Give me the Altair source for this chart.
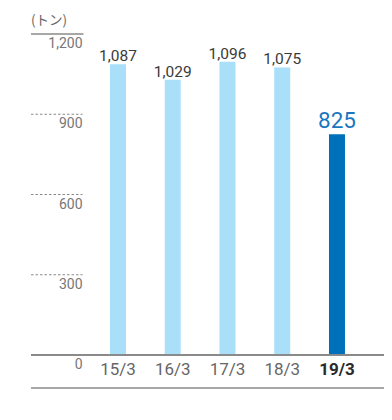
import altair as alt
import pandas as pd

# ---- data ----
categories = ["15/3", "16/3", "17/3", "18/3", "19/3"]
values = [1087, 1029, 1096, 1075, 825]
value_labels = ["1,087", "1,029", "1,096", "1,075", "825"]
highlight = [False, False, False, False, True]
y_ticks = [0, 300, 600, 900, 1200]
y_tick_labels = ["0", "300", "600", "900", "1,200"]
unit_label = "(トン)"

bars_df = pd.DataFrame({"cat": categories, "value": values,
                        "label": value_labels, "hl": highlight})
ticks_df = pd.DataFrame({"tick": y_ticks, "tick_label": y_tick_labels})
unit_df = pd.DataFrame({"unit": [unit_label]})

FONT = "Roboto"
LIGHT = "#aadffa"
DARK = "#0070bb"
LINE = "#8a8a8a"

W, H = 353, 321
COL = 51.5  # right edge of the y-label column

yscale = alt.Scale(domain=[0, 1200], nice=False)
xscale = alt.Scale(domain=categories, range=[51.6, 341.35],
                   paddingInner=0.7078, paddingOuter=0.5)
xaxis = alt.Axis(title=None, domain=False, ticks=False, grid=False, labelAngle=0,
                 labelPadding=6, labelFont=FONT, labelFontSize=17,
                 labelColor=alt.condition("datum.value == '19/3'", alt.value("#2a2a2a"), alt.value("#666666")),
                 labelFontWeight=alt.condition("datum.value == '19/3'", alt.value("bold"), alt.value("normal")))


def Y(field):
    return alt.Y(field, scale=yscale, axis=None)


def X():
    return alt.X("cat:N", scale=xscale, sort=categories, axis=xaxis)


base = alt.Chart(bars_df)

bars = base.mark_bar().encode(
    x=X(),
    y=Y("value:Q"),
    color=alt.condition("datum.hl", alt.value(DARK), alt.value(LIGHT)),
)

labels_normal = base.transform_filter("!datum.hl").mark_text(
    baseline="alphabetic", dy=-3, font=FONT, fontSize=15.5, color="#3a3a3a"
).encode(x=X(), y=Y("value:Q"), text="label:N")

labels_hl = base.transform_filter("datum.hl").mark_text(
    baseline="alphabetic", dy=-6, font=FONT, fontSize=22.5, color="#1a76c0"
).encode(x=X(), y=Y("value:Q"), text="label:N")

tick_base = alt.Chart(ticks_df)

tick_labels = tick_base.mark_text(
    align="right", baseline="top", dy=3, font=FONT, fontSize=14, color="#777777"
).encode(x=alt.value(COL), y=Y("tick:Q"), text="tick_label:N")

dotted = tick_base.transform_filter("datum.tick > 0 && datum.tick < 1200").mark_rule(
    strokeDash=[2.5, 2], color=LINE, strokeWidth=1
).encode(x=alt.value(0), x2=alt.value(COL), y=Y("tick:Q"))

top_rule = tick_base.transform_filter("datum.tick == 1200").mark_rule(
    color=LINE, strokeWidth=1.4
).encode(x=alt.value(0), x2=alt.value(COL + 1), y=Y("tick:Q"))

base_rule = tick_base.transform_filter("datum.tick == 0").mark_rule(
    color=LINE, strokeWidth=2
).encode(x=alt.value(0), x2=alt.value(W), y=Y("tick:Q"))

bottom_rule = alt.Chart(unit_df).mark_rule(color=LINE, strokeWidth=1.4).encode(
    x=alt.value(0), x2=alt.value(W), y=alt.value(H + 33))

unit = alt.Chart(unit_df).mark_text(
    align="left", baseline="middle", font="Noto Sans CJK JP", fontSize=13.5, color="#666666"
).encode(x=alt.value(0), y=alt.value(-13), text="unit:N")

chart = alt.layer(
    bars, labels_normal, labels_hl, tick_labels, dotted, top_rule, base_rule, bottom_rule, unit
).properties(
    width=W, height=H,
    padding={"left": 23, "top": 26, "right": 0, "bottom": 40},
    autosize=alt.AutoSizeParams(type="none"),
    background="white",
).configure_view(strokeWidth=0)

chart.save("out.html", embed_options={"renderer": "svg", "actions": False})
